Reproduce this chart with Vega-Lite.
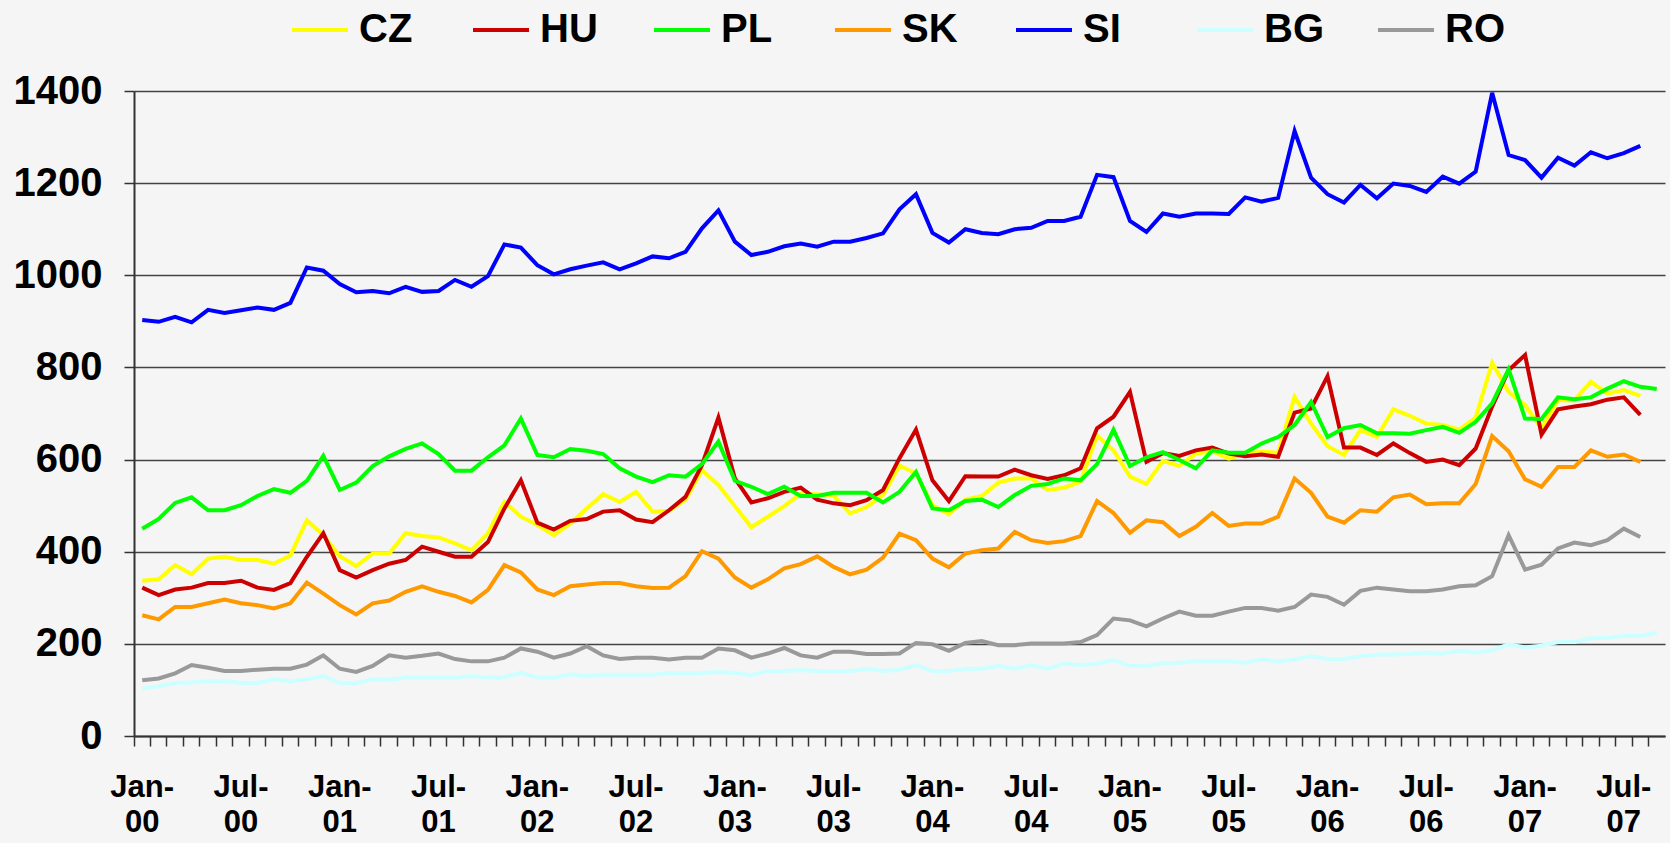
{
"$schema":"https://vega.github.io/schema/vega-lite/v6.json",
"width":1531,"height":645,
"autosize":"none",
"padding":{"left":134,"top":91,"right":5,"bottom":107},
"background":"#f5f5f5",
"config":{"view":{"stroke":null},"font":"Liberation Sans"},
"data":{"values":[
{"m":"Jan-00","c":"CZ","v":337},{"m":"Feb-00","c":"CZ","v":340},{"m":"Mar-00","c":"CZ","v":371},{"m":"Apr-00","c":"CZ","v":351},{"m":"May-00","c":"CZ","v":385},{"m":"Jun-00","c":"CZ","v":389},{"m":"Jul-00","c":"CZ","v":382},{"m":"Aug-00","c":"CZ","v":382},{"m":"Sep-00","c":"CZ","v":374},{"m":"Oct-00","c":"CZ","v":392},{"m":"Nov-00","c":"CZ","v":468},{"m":"Dec-00","c":"CZ","v":436},
{"m":"Jan-01","c":"CZ","v":390},{"m":"Feb-01","c":"CZ","v":369},{"m":"Mar-01","c":"CZ","v":396},{"m":"Apr-01","c":"CZ","v":396},{"m":"May-01","c":"CZ","v":440},{"m":"Jun-01","c":"CZ","v":434},{"m":"Jul-01","c":"CZ","v":431},{"m":"Aug-01","c":"CZ","v":418},{"m":"Sep-01","c":"CZ","v":403},{"m":"Oct-01","c":"CZ","v":440},{"m":"Nov-01","c":"CZ","v":508},{"m":"Dec-01","c":"CZ","v":476},
{"m":"Jan-02","c":"CZ","v":458},{"m":"Feb-02","c":"CZ","v":436},{"m":"Mar-02","c":"CZ","v":461},{"m":"Apr-02","c":"CZ","v":494},{"m":"May-02","c":"CZ","v":525},{"m":"Jun-02","c":"CZ","v":508},{"m":"Jul-02","c":"CZ","v":530},{"m":"Aug-02","c":"CZ","v":487},{"m":"Sep-02","c":"CZ","v":489},{"m":"Oct-02","c":"CZ","v":513},{"m":"Nov-02","c":"CZ","v":577},{"m":"Dec-02","c":"CZ","v":545},
{"m":"Jan-03","c":"CZ","v":499},{"m":"Feb-03","c":"CZ","v":453},{"m":"Mar-03","c":"CZ","v":476},{"m":"Apr-03","c":"CZ","v":499},{"m":"May-03","c":"CZ","v":526},{"m":"Jun-03","c":"CZ","v":525},{"m":"Jul-03","c":"CZ","v":521},{"m":"Aug-03","c":"CZ","v":483},{"m":"Sep-03","c":"CZ","v":497},{"m":"Oct-03","c":"CZ","v":523},{"m":"Nov-03","c":"CZ","v":587},{"m":"Dec-03","c":"CZ","v":570},
{"m":"Jan-04","c":"CZ","v":501},{"m":"Feb-04","c":"CZ","v":481},{"m":"Mar-04","c":"CZ","v":513},{"m":"Apr-04","c":"CZ","v":521},{"m":"May-04","c":"CZ","v":550},{"m":"Jun-04","c":"CZ","v":559},{"m":"Jul-04","c":"CZ","v":559},{"m":"Aug-04","c":"CZ","v":534},{"m":"Sep-04","c":"CZ","v":539},{"m":"Oct-04","c":"CZ","v":552},{"m":"Nov-04","c":"CZ","v":652},{"m":"Dec-04","c":"CZ","v":620},
{"m":"Jan-05","c":"CZ","v":563},{"m":"Feb-05","c":"CZ","v":547},{"m":"Mar-05","c":"CZ","v":597},{"m":"Apr-05","c":"CZ","v":586},{"m":"May-05","c":"CZ","v":613},{"m":"Jun-05","c":"CZ","v":618},{"m":"Jul-05","c":"CZ","v":602},{"m":"Aug-05","c":"CZ","v":613},{"m":"Sep-05","c":"CZ","v":617},{"m":"Oct-05","c":"CZ","v":615},{"m":"Nov-05","c":"CZ","v":736},{"m":"Dec-05","c":"CZ","v":678},
{"m":"Jan-06","c":"CZ","v":629},{"m":"Feb-06","c":"CZ","v":610},{"m":"Mar-06","c":"CZ","v":664},{"m":"Apr-06","c":"CZ","v":649},{"m":"May-06","c":"CZ","v":709},{"m":"Jun-06","c":"CZ","v":695},{"m":"Jul-06","c":"CZ","v":678},{"m":"Aug-06","c":"CZ","v":675},{"m":"Sep-06","c":"CZ","v":665},{"m":"Oct-06","c":"CZ","v":691},{"m":"Nov-06","c":"CZ","v":810},{"m":"Dec-06","c":"CZ","v":747},
{"m":"Jan-07","c":"CZ","v":718},{"m":"Feb-07","c":"CZ","v":668},{"m":"Mar-07","c":"CZ","v":729},{"m":"Apr-07","c":"CZ","v":729},{"m":"May-07","c":"CZ","v":769},{"m":"Jun-07","c":"CZ","v":743},{"m":"Jul-07","c":"CZ","v":751},{"m":"Aug-07","c":"CZ","v":738},

{"m":"Jan-00","c":"HU","v":322},{"m":"Feb-00","c":"HU","v":306},{"m":"Mar-00","c":"HU","v":318},{"m":"Apr-00","c":"HU","v":322},{"m":"May-00","c":"HU","v":332},{"m":"Jun-00","c":"HU","v":332},{"m":"Jul-00","c":"HU","v":337},{"m":"Aug-00","c":"HU","v":322},{"m":"Sep-00","c":"HU","v":317},{"m":"Oct-00","c":"HU","v":332},{"m":"Nov-00","c":"HU","v":389},{"m":"Dec-00","c":"HU","v":440},
{"m":"Jan-01","c":"HU","v":360},{"m":"Feb-01","c":"HU","v":344},{"m":"Mar-01","c":"HU","v":360},{"m":"Apr-01","c":"HU","v":374},{"m":"May-01","c":"HU","v":382},{"m":"Jun-01","c":"HU","v":411},{"m":"Jul-01","c":"HU","v":400},{"m":"Aug-01","c":"HU","v":389},{"m":"Sep-01","c":"HU","v":389},{"m":"Oct-01","c":"HU","v":421},{"m":"Nov-01","c":"HU","v":494},{"m":"Dec-01","c":"HU","v":555},
{"m":"Jan-02","c":"HU","v":463},{"m":"Feb-02","c":"HU","v":448},{"m":"Mar-02","c":"HU","v":467},{"m":"Apr-02","c":"HU","v":471},{"m":"May-02","c":"HU","v":487},{"m":"Jun-02","c":"HU","v":490},{"m":"Jul-02","c":"HU","v":470},{"m":"Aug-02","c":"HU","v":464},{"m":"Sep-02","c":"HU","v":490},{"m":"Oct-02","c":"HU","v":519},{"m":"Nov-02","c":"HU","v":588},{"m":"Dec-02","c":"HU","v":691},
{"m":"Jan-03","c":"HU","v":559},{"m":"Feb-03","c":"HU","v":507},{"m":"Mar-03","c":"HU","v":516},{"m":"Apr-03","c":"HU","v":530},{"m":"May-03","c":"HU","v":539},{"m":"Jun-03","c":"HU","v":513},{"m":"Jul-03","c":"HU","v":505},{"m":"Aug-03","c":"HU","v":501},{"m":"Sep-03","c":"HU","v":512},{"m":"Oct-03","c":"HU","v":534},{"m":"Nov-03","c":"HU","v":603},{"m":"Dec-03","c":"HU","v":665},
{"m":"Jan-04","c":"HU","v":555},{"m":"Feb-04","c":"HU","v":510},{"m":"Mar-04","c":"HU","v":564},{"m":"Apr-04","c":"HU","v":563},{"m":"May-04","c":"HU","v":563},{"m":"Jun-04","c":"HU","v":578},{"m":"Jul-04","c":"HU","v":566},{"m":"Aug-04","c":"HU","v":558},{"m":"Sep-04","c":"HU","v":566},{"m":"Oct-04","c":"HU","v":581},{"m":"Nov-04","c":"HU","v":668},{"m":"Dec-04","c":"HU","v":693},
{"m":"Jan-05","c":"HU","v":747},{"m":"Feb-05","c":"HU","v":595},{"m":"Mar-05","c":"HU","v":614},{"m":"Apr-05","c":"HU","v":608},{"m":"May-05","c":"HU","v":620},{"m":"Jun-05","c":"HU","v":626},{"m":"Jul-05","c":"HU","v":613},{"m":"Aug-05","c":"HU","v":607},{"m":"Sep-05","c":"HU","v":611},{"m":"Oct-05","c":"HU","v":606},{"m":"Nov-05","c":"HU","v":702},{"m":"Dec-05","c":"HU","v":711},
{"m":"Jan-06","c":"HU","v":781},{"m":"Feb-06","c":"HU","v":626},{"m":"Mar-06","c":"HU","v":626},{"m":"Apr-06","c":"HU","v":610},{"m":"May-06","c":"HU","v":635},{"m":"Jun-06","c":"HU","v":614},{"m":"Jul-06","c":"HU","v":595},{"m":"Aug-06","c":"HU","v":600},{"m":"Sep-06","c":"HU","v":588},{"m":"Oct-06","c":"HU","v":624},{"m":"Nov-06","c":"HU","v":715},{"m":"Dec-06","c":"HU","v":794},
{"m":"Jan-07","c":"HU","v":827},{"m":"Feb-07","c":"HU","v":654},{"m":"Mar-07","c":"HU","v":709},{"m":"Apr-07","c":"HU","v":715},{"m":"May-07","c":"HU","v":720},{"m":"Jun-07","c":"HU","v":730},{"m":"Jul-07","c":"HU","v":735},{"m":"Aug-07","c":"HU","v":697},

{"m":"Jan-00","c":"PL","v":450},{"m":"Feb-00","c":"PL","v":471},{"m":"Mar-00","c":"PL","v":506},{"m":"Apr-00","c":"PL","v":518},{"m":"May-00","c":"PL","v":490},{"m":"Jun-00","c":"PL","v":490},{"m":"Jul-00","c":"PL","v":501},{"m":"Aug-00","c":"PL","v":521},{"m":"Sep-00","c":"PL","v":536},{"m":"Oct-00","c":"PL","v":528},{"m":"Nov-00","c":"PL","v":554},{"m":"Dec-00","c":"PL","v":608},
{"m":"Jan-01","c":"PL","v":534},{"m":"Feb-01","c":"PL","v":550},{"m":"Mar-01","c":"PL","v":586},{"m":"Apr-01","c":"PL","v":607},{"m":"May-01","c":"PL","v":623},{"m":"Jun-01","c":"PL","v":635},{"m":"Jul-01","c":"PL","v":612},{"m":"Aug-01","c":"PL","v":576},{"m":"Sep-01","c":"PL","v":576},{"m":"Oct-01","c":"PL","v":605},{"m":"Nov-01","c":"PL","v":631},{"m":"Dec-01","c":"PL","v":689},
{"m":"Jan-02","c":"PL","v":610},{"m":"Feb-02","c":"PL","v":605},{"m":"Mar-02","c":"PL","v":623},{"m":"Apr-02","c":"PL","v":619},{"m":"May-02","c":"PL","v":612},{"m":"Jun-02","c":"PL","v":581},{"m":"Jul-02","c":"PL","v":563},{"m":"Aug-02","c":"PL","v":551},{"m":"Sep-02","c":"PL","v":566},{"m":"Oct-02","c":"PL","v":563},{"m":"Nov-02","c":"PL","v":590},{"m":"Dec-02","c":"PL","v":639},
{"m":"Jan-03","c":"PL","v":554},{"m":"Feb-03","c":"PL","v":541},{"m":"Mar-03","c":"PL","v":525},{"m":"Apr-03","c":"PL","v":541},{"m":"May-03","c":"PL","v":521},{"m":"Jun-03","c":"PL","v":521},{"m":"Jul-03","c":"PL","v":528},{"m":"Aug-03","c":"PL","v":528},{"m":"Sep-03","c":"PL","v":528},{"m":"Oct-03","c":"PL","v":507},{"m":"Nov-03","c":"PL","v":530},{"m":"Dec-03","c":"PL","v":573},
{"m":"Jan-04","c":"PL","v":494},{"m":"Feb-04","c":"PL","v":490},{"m":"Mar-04","c":"PL","v":510},{"m":"Apr-04","c":"PL","v":513},{"m":"May-04","c":"PL","v":497},{"m":"Jun-04","c":"PL","v":523},{"m":"Jul-04","c":"PL","v":543},{"m":"Aug-04","c":"PL","v":547},{"m":"Sep-04","c":"PL","v":559},{"m":"Oct-04","c":"PL","v":555},{"m":"Nov-04","c":"PL","v":590},{"m":"Dec-04","c":"PL","v":665},
{"m":"Jan-05","c":"PL","v":586},{"m":"Feb-05","c":"PL","v":605},{"m":"Mar-05","c":"PL","v":616},{"m":"Apr-05","c":"PL","v":599},{"m":"May-05","c":"PL","v":581},{"m":"Jun-05","c":"PL","v":620},{"m":"Jul-05","c":"PL","v":615},{"m":"Aug-05","c":"PL","v":615},{"m":"Sep-05","c":"PL","v":635},{"m":"Oct-05","c":"PL","v":649},{"m":"Nov-05","c":"PL","v":675},{"m":"Dec-05","c":"PL","v":725},
{"m":"Jan-06","c":"PL","v":649},{"m":"Feb-06","c":"PL","v":668},{"m":"Mar-06","c":"PL","v":675},{"m":"Apr-06","c":"PL","v":657},{"m":"May-06","c":"PL","v":657},{"m":"Jun-06","c":"PL","v":656},{"m":"Jul-06","c":"PL","v":664},{"m":"Aug-06","c":"PL","v":671},{"m":"Sep-06","c":"PL","v":658},{"m":"Oct-06","c":"PL","v":682},{"m":"Nov-06","c":"PL","v":722},{"m":"Dec-06","c":"PL","v":796},
{"m":"Jan-07","c":"PL","v":689},{"m":"Feb-07","c":"PL","v":688},{"m":"Mar-07","c":"PL","v":735},{"m":"Apr-07","c":"PL","v":731},{"m":"May-07","c":"PL","v":735},{"m":"Jun-07","c":"PL","v":754},{"m":"Jul-07","c":"PL","v":770},{"m":"Aug-07","c":"PL","v":758},{"m":"Sep-07","c":"PL","v":753},

{"m":"Jan-00","c":"SK","v":262},{"m":"Feb-00","c":"SK","v":253},{"m":"Mar-00","c":"SK","v":280},{"m":"Apr-00","c":"SK","v":280},{"m":"May-00","c":"SK","v":288},{"m":"Jun-00","c":"SK","v":296},{"m":"Jul-00","c":"SK","v":288},{"m":"Aug-00","c":"SK","v":284},{"m":"Sep-00","c":"SK","v":277},{"m":"Oct-00","c":"SK","v":288},{"m":"Nov-00","c":"SK","v":333},{"m":"Dec-00","c":"SK","v":309},
{"m":"Jan-01","c":"SK","v":284},{"m":"Feb-01","c":"SK","v":264},{"m":"Mar-01","c":"SK","v":288},{"m":"Apr-01","c":"SK","v":294},{"m":"May-01","c":"SK","v":313},{"m":"Jun-01","c":"SK","v":325},{"m":"Jul-01","c":"SK","v":313},{"m":"Aug-01","c":"SK","v":304},{"m":"Sep-01","c":"SK","v":290},{"m":"Oct-01","c":"SK","v":317},{"m":"Nov-01","c":"SK","v":371},{"m":"Dec-01","c":"SK","v":355},
{"m":"Jan-02","c":"SK","v":318},{"m":"Feb-02","c":"SK","v":306},{"m":"Mar-02","c":"SK","v":325},{"m":"Apr-02","c":"SK","v":329},{"m":"May-02","c":"SK","v":332},{"m":"Jun-02","c":"SK","v":332},{"m":"Jul-02","c":"SK","v":325},{"m":"Aug-02","c":"SK","v":321},{"m":"Sep-02","c":"SK","v":322},{"m":"Oct-02","c":"SK","v":347},{"m":"Nov-02","c":"SK","v":401},{"m":"Dec-02","c":"SK","v":385},
{"m":"Jan-03","c":"SK","v":344},{"m":"Feb-03","c":"SK","v":322},{"m":"Mar-03","c":"SK","v":340},{"m":"Apr-03","c":"SK","v":364},{"m":"May-03","c":"SK","v":373},{"m":"Jun-03","c":"SK","v":390},{"m":"Jul-03","c":"SK","v":367},{"m":"Aug-03","c":"SK","v":351},{"m":"Sep-03","c":"SK","v":361},{"m":"Oct-03","c":"SK","v":387},{"m":"Nov-03","c":"SK","v":439},{"m":"Dec-03","c":"SK","v":425},
{"m":"Jan-04","c":"SK","v":385},{"m":"Feb-04","c":"SK","v":366},{"m":"Mar-04","c":"SK","v":396},{"m":"Apr-04","c":"SK","v":403},{"m":"May-04","c":"SK","v":407},{"m":"Jun-04","c":"SK","v":443},{"m":"Jul-04","c":"SK","v":425},{"m":"Aug-04","c":"SK","v":419},{"m":"Sep-04","c":"SK","v":423},{"m":"Oct-04","c":"SK","v":434},{"m":"Nov-04","c":"SK","v":510},{"m":"Dec-04","c":"SK","v":484},
{"m":"Jan-05","c":"SK","v":441},{"m":"Feb-05","c":"SK","v":468},{"m":"Mar-05","c":"SK","v":464},{"m":"Apr-05","c":"SK","v":434},{"m":"May-05","c":"SK","v":454},{"m":"Jun-05","c":"SK","v":484},{"m":"Jul-05","c":"SK","v":456},{"m":"Aug-05","c":"SK","v":461},{"m":"Sep-05","c":"SK","v":461},{"m":"Oct-05","c":"SK","v":476},{"m":"Nov-05","c":"SK","v":559},{"m":"Dec-05","c":"SK","v":528},
{"m":"Jan-06","c":"SK","v":476},{"m":"Feb-06","c":"SK","v":463},{"m":"Mar-06","c":"SK","v":490},{"m":"Apr-06","c":"SK","v":487},{"m":"May-06","c":"SK","v":518},{"m":"Jun-06","c":"SK","v":524},{"m":"Jul-06","c":"SK","v":503},{"m":"Aug-06","c":"SK","v":505},{"m":"Sep-06","c":"SK","v":505},{"m":"Oct-06","c":"SK","v":547},{"m":"Nov-06","c":"SK","v":651},{"m":"Dec-06","c":"SK","v":618},
{"m":"Jan-07","c":"SK","v":557},{"m":"Feb-07","c":"SK","v":541},{"m":"Mar-07","c":"SK","v":584},{"m":"Apr-07","c":"SK","v":584},{"m":"May-07","c":"SK","v":620},{"m":"Jun-07","c":"SK","v":606},{"m":"Jul-07","c":"SK","v":611},{"m":"Aug-07","c":"SK","v":595},

{"m":"Jan-00","c":"SI","v":903},{"m":"Feb-00","c":"SI","v":899},{"m":"Mar-00","c":"SI","v":910},{"m":"Apr-00","c":"SI","v":898},{"m":"May-00","c":"SI","v":925},{"m":"Jun-00","c":"SI","v":918},{"m":"Jul-00","c":"SI","v":924},{"m":"Aug-00","c":"SI","v":930},{"m":"Sep-00","c":"SI","v":925},{"m":"Oct-00","c":"SI","v":940},{"m":"Nov-00","c":"SI","v":1017},{"m":"Dec-00","c":"SI","v":1010},
{"m":"Jan-01","c":"SI","v":981},{"m":"Feb-01","c":"SI","v":963},{"m":"Mar-01","c":"SI","v":966},{"m":"Apr-01","c":"SI","v":961},{"m":"May-01","c":"SI","v":975},{"m":"Jun-01","c":"SI","v":964},{"m":"Jul-01","c":"SI","v":966},{"m":"Aug-01","c":"SI","v":990},{"m":"Sep-01","c":"SI","v":975},{"m":"Oct-01","c":"SI","v":998},{"m":"Nov-01","c":"SI","v":1067},{"m":"Dec-01","c":"SI","v":1060},
{"m":"Jan-02","c":"SI","v":1022},{"m":"Feb-02","c":"SI","v":1002},{"m":"Mar-02","c":"SI","v":1013},{"m":"Apr-02","c":"SI","v":1021},{"m":"May-02","c":"SI","v":1028},{"m":"Jun-02","c":"SI","v":1013},{"m":"Jul-02","c":"SI","v":1026},{"m":"Aug-02","c":"SI","v":1041},{"m":"Sep-02","c":"SI","v":1037},{"m":"Oct-02","c":"SI","v":1051},{"m":"Nov-02","c":"SI","v":1102},{"m":"Dec-02","c":"SI","v":1141},
{"m":"Jan-03","c":"SI","v":1073},{"m":"Feb-03","c":"SI","v":1044},{"m":"Mar-03","c":"SI","v":1051},{"m":"Apr-03","c":"SI","v":1063},{"m":"May-03","c":"SI","v":1069},{"m":"Jun-03","c":"SI","v":1062},{"m":"Jul-03","c":"SI","v":1073},{"m":"Aug-03","c":"SI","v":1073},{"m":"Sep-03","c":"SI","v":1081},{"m":"Oct-03","c":"SI","v":1091},{"m":"Nov-03","c":"SI","v":1143},{"m":"Dec-03","c":"SI","v":1176},
{"m":"Jan-04","c":"SI","v":1092},{"m":"Feb-04","c":"SI","v":1071},{"m":"Mar-04","c":"SI","v":1100},{"m":"Apr-04","c":"SI","v":1092},{"m":"May-04","c":"SI","v":1089},{"m":"Jun-04","c":"SI","v":1100},{"m":"Jul-04","c":"SI","v":1103},{"m":"Aug-04","c":"SI","v":1118},{"m":"Sep-04","c":"SI","v":1118},{"m":"Oct-04","c":"SI","v":1127},{"m":"Nov-04","c":"SI","v":1218},{"m":"Dec-04","c":"SI","v":1213},
{"m":"Jan-05","c":"SI","v":1118},{"m":"Feb-05","c":"SI","v":1094},{"m":"Mar-05","c":"SI","v":1134},{"m":"Apr-05","c":"SI","v":1127},{"m":"May-05","c":"SI","v":1134},{"m":"Jun-05","c":"SI","v":1134},{"m":"Jul-05","c":"SI","v":1133},{"m":"Aug-05","c":"SI","v":1169},{"m":"Sep-05","c":"SI","v":1160},{"m":"Oct-05","c":"SI","v":1168},{"m":"Nov-05","c":"SI","v":1313},{"m":"Dec-05","c":"SI","v":1212},
{"m":"Jan-06","c":"SI","v":1176},{"m":"Feb-06","c":"SI","v":1158},{"m":"Mar-06","c":"SI","v":1196},{"m":"Apr-06","c":"SI","v":1167},{"m":"May-06","c":"SI","v":1199},{"m":"Jun-06","c":"SI","v":1194},{"m":"Jul-06","c":"SI","v":1181},{"m":"Aug-06","c":"SI","v":1214},{"m":"Sep-06","c":"SI","v":1199},{"m":"Oct-06","c":"SI","v":1225},{"m":"Nov-06","c":"SI","v":1396},{"m":"Dec-06","c":"SI","v":1261},
{"m":"Jan-07","c":"SI","v":1250},{"m":"Feb-07","c":"SI","v":1212},{"m":"Mar-07","c":"SI","v":1255},{"m":"Apr-07","c":"SI","v":1238},{"m":"May-07","c":"SI","v":1267},{"m":"Jun-07","c":"SI","v":1254},{"m":"Jul-07","c":"SI","v":1265},{"m":"Aug-07","c":"SI","v":1281},

{"m":"Jan-00","c":"BG","v":103},{"m":"Feb-00","c":"BG","v":108},{"m":"Mar-00","c":"BG","v":115},{"m":"Apr-00","c":"BG","v":116},{"m":"May-00","c":"BG","v":119},{"m":"Jun-00","c":"BG","v":119},{"m":"Jul-00","c":"BG","v":115},{"m":"Aug-00","c":"BG","v":115},{"m":"Sep-00","c":"BG","v":123},{"m":"Oct-00","c":"BG","v":119},{"m":"Nov-00","c":"BG","v":123},{"m":"Dec-00","c":"BG","v":130},
{"m":"Jan-01","c":"BG","v":115},{"m":"Feb-01","c":"BG","v":115},{"m":"Mar-01","c":"BG","v":123},{"m":"Apr-01","c":"BG","v":122},{"m":"May-01","c":"BG","v":127},{"m":"Jun-01","c":"BG","v":127},{"m":"Jul-01","c":"BG","v":127},{"m":"Aug-01","c":"BG","v":127},{"m":"Sep-01","c":"BG","v":130},{"m":"Oct-01","c":"BG","v":127},{"m":"Nov-01","c":"BG","v":128},{"m":"Dec-01","c":"BG","v":137},
{"m":"Jan-02","c":"BG","v":127},{"m":"Feb-02","c":"BG","v":127},{"m":"Mar-02","c":"BG","v":134},{"m":"Apr-02","c":"BG","v":130},{"m":"May-02","c":"BG","v":133},{"m":"Jun-02","c":"BG","v":133},{"m":"Jul-02","c":"BG","v":133},{"m":"Aug-02","c":"BG","v":133},{"m":"Sep-02","c":"BG","v":136},{"m":"Oct-02","c":"BG","v":136},{"m":"Nov-02","c":"BG","v":137},{"m":"Dec-02","c":"BG","v":139},
{"m":"Jan-03","c":"BG","v":137},{"m":"Feb-03","c":"BG","v":132},{"m":"Mar-03","c":"BG","v":141},{"m":"Apr-03","c":"BG","v":141},{"m":"May-03","c":"BG","v":143},{"m":"Jun-03","c":"BG","v":141},{"m":"Jul-03","c":"BG","v":141},{"m":"Aug-03","c":"BG","v":141},{"m":"Sep-03","c":"BG","v":146},{"m":"Oct-03","c":"BG","v":141},{"m":"Nov-03","c":"BG","v":144},{"m":"Dec-03","c":"BG","v":154},
{"m":"Jan-04","c":"BG","v":141},{"m":"Feb-04","c":"BG","v":141},{"m":"Mar-04","c":"BG","v":146},{"m":"Apr-04","c":"BG","v":146},{"m":"May-04","c":"BG","v":152},{"m":"Jun-04","c":"BG","v":146},{"m":"Jul-04","c":"BG","v":154},{"m":"Aug-04","c":"BG","v":146},{"m":"Sep-04","c":"BG","v":157},{"m":"Oct-04","c":"BG","v":154},{"m":"Nov-04","c":"BG","v":157},{"m":"Dec-04","c":"BG","v":165},
{"m":"Jan-05","c":"BG","v":152},{"m":"Feb-05","c":"BG","v":152},{"m":"Mar-05","c":"BG","v":158},{"m":"Apr-05","c":"BG","v":159},{"m":"May-05","c":"BG","v":162},{"m":"Jun-05","c":"BG","v":162},{"m":"Jul-05","c":"BG","v":162},{"m":"Aug-05","c":"BG","v":159},{"m":"Sep-05","c":"BG","v":166},{"m":"Oct-05","c":"BG","v":162},{"m":"Nov-05","c":"BG","v":166},{"m":"Dec-05","c":"BG","v":173},
{"m":"Jan-06","c":"BG","v":167},{"m":"Feb-06","c":"BG","v":167},{"m":"Mar-06","c":"BG","v":173},{"m":"Apr-06","c":"BG","v":177},{"m":"May-06","c":"BG","v":177},{"m":"Jun-06","c":"BG","v":178},{"m":"Jul-06","c":"BG","v":181},{"m":"Aug-06","c":"BG","v":179},{"m":"Sep-06","c":"BG","v":185},{"m":"Oct-06","c":"BG","v":181},{"m":"Nov-06","c":"BG","v":186},{"m":"Dec-06","c":"BG","v":199},
{"m":"Jan-07","c":"BG","v":192},{"m":"Feb-07","c":"BG","v":196},{"m":"Mar-07","c":"BG","v":204},{"m":"Apr-07","c":"BG","v":204},{"m":"May-07","c":"BG","v":212},{"m":"Jun-07","c":"BG","v":213},{"m":"Jul-07","c":"BG","v":217},{"m":"Aug-07","c":"BG","v":217},{"m":"Sep-07","c":"BG","v":224},

{"m":"Jan-00","c":"RO","v":121},{"m":"Feb-00","c":"RO","v":125},{"m":"Mar-00","c":"RO","v":136},{"m":"Apr-00","c":"RO","v":154},{"m":"May-00","c":"RO","v":148},{"m":"Jun-00","c":"RO","v":141},{"m":"Jul-00","c":"RO","v":141},{"m":"Aug-00","c":"RO","v":144},{"m":"Sep-00","c":"RO","v":146},{"m":"Oct-00","c":"RO","v":146},{"m":"Nov-00","c":"RO","v":155},{"m":"Dec-00","c":"RO","v":175},
{"m":"Jan-01","c":"RO","v":146},{"m":"Feb-01","c":"RO","v":139},{"m":"Mar-01","c":"RO","v":152},{"m":"Apr-01","c":"RO","v":175},{"m":"May-01","c":"RO","v":170},{"m":"Jun-01","c":"RO","v":174},{"m":"Jul-01","c":"RO","v":179},{"m":"Aug-01","c":"RO","v":167},{"m":"Sep-01","c":"RO","v":162},{"m":"Oct-01","c":"RO","v":162},{"m":"Nov-01","c":"RO","v":170},{"m":"Dec-01","c":"RO","v":190},
{"m":"Jan-02","c":"RO","v":183},{"m":"Feb-02","c":"RO","v":170},{"m":"Mar-02","c":"RO","v":179},{"m":"Apr-02","c":"RO","v":195},{"m":"May-02","c":"RO","v":175},{"m":"Jun-02","c":"RO","v":167},{"m":"Jul-02","c":"RO","v":170},{"m":"Aug-02","c":"RO","v":170},{"m":"Sep-02","c":"RO","v":166},{"m":"Oct-02","c":"RO","v":170},{"m":"Nov-02","c":"RO","v":170},{"m":"Dec-02","c":"RO","v":190},
{"m":"Jan-03","c":"RO","v":186},{"m":"Feb-03","c":"RO","v":170},{"m":"Mar-03","c":"RO","v":179},{"m":"Apr-03","c":"RO","v":191},{"m":"May-03","c":"RO","v":175},{"m":"Jun-03","c":"RO","v":170},{"m":"Jul-03","c":"RO","v":183},{"m":"Aug-03","c":"RO","v":183},{"m":"Sep-03","c":"RO","v":178},{"m":"Oct-03","c":"RO","v":178},{"m":"Nov-03","c":"RO","v":179},{"m":"Dec-03","c":"RO","v":202},
{"m":"Jan-04","c":"RO","v":199},{"m":"Feb-04","c":"RO","v":185},{"m":"Mar-04","c":"RO","v":202},{"m":"Apr-04","c":"RO","v":206},{"m":"May-04","c":"RO","v":197},{"m":"Jun-04","c":"RO","v":197},{"m":"Jul-04","c":"RO","v":201},{"m":"Aug-04","c":"RO","v":201},{"m":"Sep-04","c":"RO","v":201},{"m":"Oct-04","c":"RO","v":204},{"m":"Nov-04","c":"RO","v":219},{"m":"Dec-04","c":"RO","v":255},
{"m":"Jan-05","c":"RO","v":251},{"m":"Feb-05","c":"RO","v":238},{"m":"Mar-05","c":"RO","v":255},{"m":"Apr-05","c":"RO","v":270},{"m":"May-05","c":"RO","v":261},{"m":"Jun-05","c":"RO","v":261},{"m":"Jul-05","c":"RO","v":270},{"m":"Aug-05","c":"RO","v":278},{"m":"Sep-05","c":"RO","v":278},{"m":"Oct-05","c":"RO","v":272},{"m":"Nov-05","c":"RO","v":280},{"m":"Dec-05","c":"RO","v":307},
{"m":"Jan-06","c":"RO","v":302},{"m":"Feb-06","c":"RO","v":285},{"m":"Mar-06","c":"RO","v":315},{"m":"Apr-06","c":"RO","v":322},{"m":"May-06","c":"RO","v":318},{"m":"Jun-06","c":"RO","v":314},{"m":"Jul-06","c":"RO","v":314},{"m":"Aug-06","c":"RO","v":318},{"m":"Sep-06","c":"RO","v":325},{"m":"Oct-06","c":"RO","v":327},{"m":"Nov-06","c":"RO","v":347},{"m":"Dec-06","c":"RO","v":436},
{"m":"Jan-07","c":"RO","v":361},{"m":"Feb-07","c":"RO","v":372},{"m":"Mar-07","c":"RO","v":407},{"m":"Apr-07","c":"RO","v":420},{"m":"May-07","c":"RO","v":414},{"m":"Jun-07","c":"RO","v":425},{"m":"Jul-07","c":"RO","v":450},{"m":"Aug-07","c":"RO","v":432}
]},
"mark":{"type":"line","strokeWidth":4,"strokeJoin":"miter","strokeCap":"butt"},
"encoding":{
"x":{"field":"m","type":"ordinal","sort":null,"bandPosition":0.5,
"scale":{"type":"band","paddingInner":0,"paddingOuter":0},
"axis":{"title":null,"bandPosition":0,"labelOffset":0,"labelAngle":0,"labelOverlap":false,"labelFlush":false,
"labelExpr":"(slice(datum.value,0,3) == 'Jan' || slice(datum.value,0,3) == 'Jul') ? [slice(datum.value,0,4), slice(datum.value,4)] : ''",
"labelFont":"Liberation Sans","labelFontWeight":"bold","labelFontSize":31,"labelColor":"#000","labelLineHeight":35,"labelBaseline":"top","labelPadding":26,
"domainColor":"#333","domainWidth":2,"tickColor":"#333","tickWidth":1.5,"tickSize":10,"grid":false}},
"y":{"field":"v","type":"quantitative",
"scale":{"domain":[0,1400],"nice":false,"zero":true},
"axis":{"title":null,"format":"d","values":[0,200,400,600,800,1000,1200,1400],"grid":true,"gridColor":"#444","gridWidth":1.5,
"domainColor":"#333","domainWidth":2,"tickColor":"#333","tickWidth":1.5,"tickSize":10,
"labelFont":"Liberation Sans","labelFontWeight":"bold","labelFontSize":40,"labelColor":"#000","labelPadding":22}},
"color":{"field":"c","type":"nominal",
"scale":{"domain":["CZ","HU","PL","SK","SI","BG","RO"],"range":["#ffff00","#cc0000","#00ff00","#ff9900","#0000ff","#ccffff","#999999"]},
"legend":{"title":null,"orient":"none","legendX":156,"legendY":-91,"direction":"horizontal","columns":7,"gridAlign":"all",
"symbolType":"stroke","symbolSize":3136,"symbolStrokeWidth":4,"labelFont":"Liberation Sans","labelFontWeight":"bold","labelFontSize":40,"labelColor":"#000","labelOffset":9,"columnPadding":46,"labelLimit":200}}
}
}
